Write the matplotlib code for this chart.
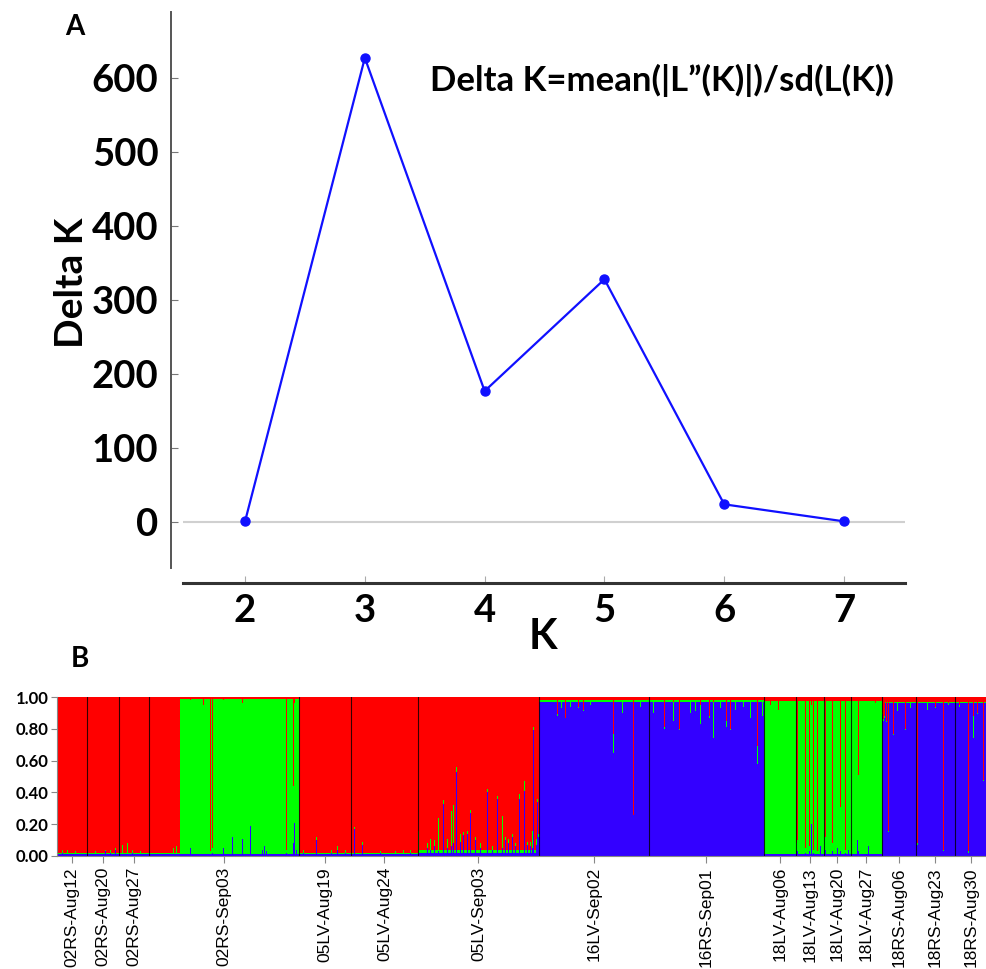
import matplotlib
matplotlib.use("Agg")
import matplotlib.pyplot as plt
import numpy as np

# ---- panel A: Evanno delta K ----
k_values = [2, 3, 4, 5, 6, 7]
delta_k = [1, 627, 177, 328, 24, 1]

# ---- panel B: STRUCTURE bar plot (K=3) ----
pop_names = ["02RS-Aug12", "02RS-Aug20", "02RS-Aug27", "02RS-Sep03",
             "05LV-Aug19", "05LV-Aug24", "05LV-Sep03", "16LV-Sep02",
             "16RS-Sep01", "18LV-Aug06", "18LV-Aug13", "18LV-Aug20",
             "18LV-Aug27", "18RS-Aug06", "18RS-Aug23", "18RS-Aug30"]

# baseline blocks per population: (n individuals, blue, green, red)
pop_blocks = [
    [(30, .01, .01, .98)],
    [(32, .01, .01, .98)],
    [(30, .01, .01, .98)],
    [(31, .01, .01, .98), (119, .015, .97, .015)],
    [(52, .01, .01, .98)],
    [(67, .01, .01, .98)],
    [(121, .02, .015, .965)],
    [(110, .97, .01, .02)],
    [(115, .97, .01, .02)],
    [(32, .015, .96, .025)],
    [(28, .015, .96, .025)],
    [(27, .015, .96, .025)],
    [(31, .015, .96, .025)],
    [(34, .96, .01, .03)],
    [(39, .96, .01, .03)],
    [(32, .96, .01, .03)],
]

# individuals that depart from the baseline: (offset in pop, blue, green, red)
pop_spikes = [
    [(5, .02, .02, .96), (10, .01, .03, .96), (18, .01, .02, .97)],
    [(8, .01, .02, .97), (18, .03, .01, .96), (23, .02, .02, .96), (28, .04, .01, .95)],
    [(3, .01, .06, .93), (8, .01, .07, .92), (13, .02, .02, .96), (21, .01, .02, .97)],
    [(24, .01, .04, .95), (27, .01, .05, .94),
     (41, .05, .93, .02), (54, .015, .935, .05), (61, .01, .02, .97), (63, .02, .03, .95),
     (74, .05, .93, .02), (83, .12, .865, .015), (93, .11, .85, .04), (101, .19, .795, .015),
     (113, .04, .945, .015), (115, .06, .925, .015), (117, .03, .955, .015),
     (137, .02, .02, .96), (144, .08, .36, .56), (145, .21, .75, .04), (147, .04, .945, .015)],
    [(4, .02, .02, .96), (17, .10, .02, .88), (32, .02, .02, .96), (38, .04, .02, .94),
     (46, .02, .02, .96)],
    [(3, .17, .01, .82), (11, .07, .02, .91), (29, .02, .01, .97), (44, .01, .02, .97),
     (52, .01, .03, .96), (59, .02, .02, .96)],
    [(0, .01, .15, .84), (9, .05, .03, .92), (12, .04, .07, .89), (16, .06, .04, .90),
     (20, .03, .21, .76), (25, .33, .02, .65), (29, .05, .06, .89), (33, .06, .22, .72),
     (35, .08, .24, .68), (38, .53, .03, .44), (42, .09, .05, .86), (45, .13, .02, .85),
     (49, .14, .02, .84), (52, .27, .02, .71), (57, .10, .02, .88), (62, .05, .03, .92),
     (69, .40, .02, .58), (74, .04, .02, .94), (79, .36, .02, .62), (84, .05, .20, .75),
     (87, .10, .02, .88), (90, .08, .03, .89), (94, .12, .02, .86), (97, .06, .02, .92),
     (101, .36, .03, .61), (106, .41, .06, .53), (109, .07, .02, .91), (112, .06, .03, .91),
     (114, .05, .11, .84), (115, .79, .02, .19), (118, .07, .04, .89), (119, .34, .02, .64),
     (120, .12, .02, .86)],
    [(18, .88, .01, .11), (22, .93, .05, .02), (26, .87, .0, .13), (31, .94, .04, .02),
     (39, .93, .01, .06), (44, .91, .01, .08), (51, .95, .03, .02), (74, .65, .12, .23),
     (83, .90, .08, .02), (94, .26, .0, .74), (101, .94, .04, .02)],
    [(4, .90, .08, .02), (15, .80, .01, .19), (24, .85, .12, .03), (30, .79, .01, .20),
     (41, .90, .08, .02), (46, .91, .07, .02), (51, .83, .12, .05), (60, .87, .01, .12),
     (64, .74, .23, .03), (71, .93, .05, .02), (77, .81, .04, .15), (81, .79, .01, .20),
     (86, .92, .06, .02), (94, .94, .04, .02), (101, .87, .11, .02), (108, .58, .11, .31),
     (113, .88, .10, .02)],
    [(6, .015, .935, .05), (14, .015, .905, .08)],
    [(0, .04, .04, .92), (1, .03, .07, .90), (9, .02, .03, .95), (13, .03, .03, .94),
     (15, .20, .75, .05), (17, .02, .02, .96), (21, .01, .02, .97), (24, .06, .915, .025)],
    [(1, .04, .08, .88), (8, .03, .05, .92), (13, .05, .925, .025), (16, .03, .28, .69),
     (21, .02, .02, .96), (24, .04, .935, .025)],
    [(6, .10, .875, .025), (7, .03, .48, .49), (17, .06, .915, .025), (24, .015, .945, .04)],
    [(0, .89, .01, .10), (1, .85, .01, .14), (2, .87, .01, .12), (4, .84, .01, .15),
     (6, .15, .01, .84), (11, .76, .01, .23), (15, .91, .06, .03), (23, .79, .01, .20),
     (28, .93, .04, .03)],
    [(1, .07, .01, .92), (11, .92, .05, .03), (19, .93, .01, .06), (27, .03, .01, .96),
     (32, .95, .01, .04)],
    [(4, .94, .01, .05), (13, .02, .01, .97), (18, .74, .14, .12), (22, .89, .01, .10),
     (28, .47, .01, .52), (31, .91, .01, .08)],
]

col_blue = "#3300ff"
col_green = "#00ff00"
col_red = "#ff0000"

# build per-individual Q matrix from blocks and spikes
q_blue, q_green, q_red = [], [], []
pop_sizes = []
for blocks, spikes in zip(pop_blocks, pop_spikes):
    b, g, r = [], [], []
    for n, qb, qg, qr in blocks:
        b += [qb] * n
        g += [qg] * n
        r += [qr] * n
    for off, qb, qg, qr in spikes:
        b[off], g[off], r[off] = qb, qg, qr
    pop_sizes.append(len(b))
    q_blue += b
    q_green += g
    q_red += r
q_blue = np.array(q_blue)
q_green = np.array(q_green)
q_red = np.array(q_red)
n_ind = len(q_blue)
bounds = np.cumsum([0] + pop_sizes)

bold_font = "Lato"

fig = plt.figure(figsize=(9.87, 9.69), dpi=100)

# ---------------- panel A ----------------
axA = fig.add_axes([183 / 987, 1 - 568 / 969, (905 - 183) / 987, (568 - 12) / 969])
axA.axhline(0, color="#d0d0d0", lw=1.5, zorder=1)
axA.plot(k_values, delta_k, color="#1010ff", lw=1.6, marker="o", markersize=6.5, zorder=3)
axA.set_xlim(1.482, 7.509)
axA.set_ylim(-62, 689)
axA.set_xticks(k_values)
axA.set_yticks([0, 100, 200, 300, 400, 500, 600])
for s in ["top", "right"]:
    axA.spines[s].set_visible(False)
axA.spines["left"].set_position(("outward", 8.6))
axA.spines["bottom"].set_position(("outward", 10.8))
axA.spines["left"].set_color("#555555")
axA.spines["left"].set_linewidth(1.4)
axA.spines["bottom"].set_color("#333333")
axA.spines["bottom"].set_linewidth(2.2)
axA.tick_params(axis="y", direction="in", length=5, color="#777777", pad=9)
axA.tick_params(axis="x", direction="in", length=5, color="#aaaaaa", pad=8)
for lab in axA.get_xticklabels() + axA.get_yticklabels():
    lab.set_fontfamily(bold_font)
    lab.set_fontweight("bold")
    lab.set_fontsize(27.5)

fig.text(662 / 987, 1 - 80 / 969, "Delta K=mean(|L\u201d(K)|)/sd(L(K))",
         ha="center", va="center", fontsize=25, fontweight="bold", family=bold_font)
fig.text(72 / 987, 1 - 283 / 969, "Delta K", rotation=90, ha="center", va="center",
         fontsize=28, fontweight="bold", family=bold_font)
fig.text(543 / 987, 1 - 637 / 969, "K", ha="center", va="center",
         fontsize=30, fontweight="bold", family=bold_font)
fig.text(75 / 987, 1 - 27 / 969, "A", ha="center", va="center",
         fontsize=20, fontweight="bold", family=bold_font)
fig.text(80 / 987, 1 - 659 / 969, "B", ha="center", va="center",
         fontsize=20, fontweight="bold", family=bold_font)

# ---------------- panel B ----------------
axB = fig.add_axes([57 / 987, 1 - 856 / 969, (987 - 57) / 987, (856 - 697) / 969])
x = np.arange(n_ind)
axB.bar(x, q_blue, width=1.0, align="edge", color=col_blue, linewidth=0, antialiased=False)
axB.bar(x, q_green, width=1.0, align="edge", bottom=q_blue, color=col_green,
        linewidth=0, antialiased=False)
axB.bar(x, q_red, width=1.0, align="edge", bottom=q_blue + q_green, color=col_red,
        linewidth=0, antialiased=False)
for b in bounds[1:-1]:
    axB.axvline(b, color="black", lw=0.8, alpha=0.8)
axB.set_xlim(0, n_ind)
axB.set_ylim(0, 1)
centers = (bounds[:-1] + bounds[1:]) / 2
axB.set_xticks(centers)
axB.set_xticklabels(pop_names, rotation=90, family="Liberation Sans", fontsize=12.5)
axB.set_yticks([0, 0.2, 0.4, 0.6, 0.8, 1.0])
axB.set_yticklabels(["%.2f" % v for v in [0, 0.2, 0.4, 0.6, 0.8, 1.0]],
                    family=bold_font, fontweight="bold", fontsize=12)
for s in ["top", "right"]:
    axB.spines[s].set_visible(False)
axB.spines["left"].set_color("#888888")
axB.spines["bottom"].set_color("#888888")
axB.tick_params(axis="x", length=5, color="#888888", pad=3)
axB.tick_params(axis="y", length=4, color="#888888", pad=2)

fig.savefig("out.png", dpi=100)
